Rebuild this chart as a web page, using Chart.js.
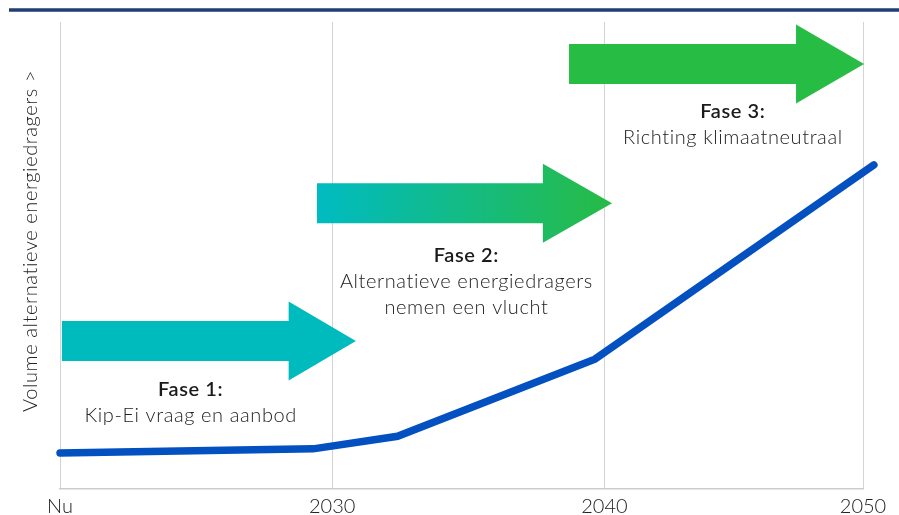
<!DOCTYPE html>
<html>
<head>
<meta charset="utf-8">
<script src="https://cdn.jsdelivr.net/npm/chart.js@4.4.0/dist/chart.umd.min.js"></script>
<style>
  html, body { margin: 0; padding: 0; background: #fff; }
  #wrap { width: 899px; height: 515px; position: relative; }
</style>
</head>
<body>
<div id="wrap"><canvas id="fasen"></canvas></div>
<script>
// as-labels en posities van de jaartallen
const xLabels = ['Nu', '2030', '2040', '2050'];
const tickYears = [2020, 2030, 2040, 2049.5];

// groei van het volume alternatieve energiedragers
const lineYears = [2020, 2029.3, 2032.4, 2039.65, 2049.9];
const volume = [7.7, 8.6, 11.3, 27.8, 69.4];

// teksten per fase
const phaseTitles = ['Fase 1:', 'Fase 2:', 'Fase 3:'];
const phaseTexts = [
  ['Kip-Ei vraag en aanbod'],
  ['Alternatieve energiedragers', 'nemen een vlucht'],
  ['Richting klimaatneutraal']
];

const yTitle = 'Volume alternatieve energiedragers >';
const FONT = 'Lato, "Open Sans", sans-serif';

// pijlen en tekstblokken, in as-eenheden
const arrows = [
  { from: 2020.07, head: 2028.4, to: 2030.87, y: 31.7, c1: '#00bbbe', c2: '#00bbbe' },
  { from: 2029.44, head: 2037.74, to: 2040.28, y: 61.2, c1: '#00bbc2', c2: '#27bb45' },
  { from: 2038.7, head: 2047.04, to: 2049.54, y: 91.0, c1: '#27bc43', c2: '#27bc43' }
];
const textSpots = [
  { x: 2024.8, y: 19.9 },
  { x: 2034.93, y: 48.6 },
  { x: 2044.72, y: 79.4 }
];

const fasenPlugin = {
  id: 'fasen',
  beforeDraw(chart) {
    const ctx = chart.ctx;
    ctx.save();
    // donkerblauwe lijn bovenaan
    ctx.strokeStyle = '#213e72';
    ctx.lineWidth = 3.5;
    ctx.beginPath();
    ctx.moveTo(9, 10);
    ctx.lineTo(chart.width, 10);
    ctx.stroke();
    ctx.restore();
  },
  beforeDatasetsDraw(chart) {
    const ctx = chart.ctx;
    const xs = chart.scales.x, ys = chart.scales.y;
    ctx.save();
    arrows.forEach(a => {
      const x0 = xs.getPixelForValue(a.from);
      const xh = xs.getPixelForValue(a.head);
      const x1 = xs.getPixelForValue(a.to);
      const yc = ys.getPixelForValue(a.y);
      const body = 20, wing = 39.5;
      const g = ctx.createLinearGradient(x0, 0, x1, 0);
      g.addColorStop(0, a.c1);
      g.addColorStop(1, a.c2);
      ctx.fillStyle = g;
      ctx.beginPath();
      ctx.moveTo(x0, yc - body);
      ctx.lineTo(xh, yc - body);
      ctx.lineTo(xh, yc - wing);
      ctx.lineTo(x1, yc);
      ctx.lineTo(xh, yc + wing);
      ctx.lineTo(xh, yc + body);
      ctx.lineTo(x0, yc + body);
      ctx.closePath();
      ctx.fill();
    });
    ctx.restore();
  },
  afterDraw(chart) {
    const ctx = chart.ctx;
    const xs = chart.scales.x, ys = chart.scales.y;
    ctx.save();
    ctx.textAlign = 'center';
    ctx.textBaseline = 'alphabetic';
    ctx.letterSpacing = '0.6px';
    textSpots.forEach((s, i) => {
      const cx = xs.getPixelForValue(s.x);
      let by = ys.getPixelForValue(s.y);
      ctx.fillStyle = '#1b1b1b';
      ctx.font = '600 20px ' + FONT;
      ctx.fillText(phaseTitles[i], cx, by);
      ctx.fillStyle = '#222222';
      ctx.font = '300 20px ' + FONT;
      phaseTexts[i].forEach(line => {
        by += 26;
        ctx.fillText(line, cx, by);
      });
    });
    // verticale astitel
    ctx.translate(37, 241);
    ctx.rotate(-Math.PI / 2);
    ctx.fillStyle = '#222222';
    ctx.font = '300 20px ' + FONT;
    ctx.fillText(yTitle, 0, 0);
    ctx.restore();
  }
};

new Chart(document.getElementById('fasen'), {
  type: 'line',
  data: {
    datasets: [{
      data: lineYears.map((yr, i) => ({ x: yr, y: volume[i] })),
      borderColor: '#0350c1',
      borderWidth: 7.5,
      borderCapStyle: 'round',
      borderJoinStyle: 'miter',
      pointRadius: 0,
      tension: 0,
      clip: false
    }]
  },
  options: {
    responsive: true,
    maintainAspectRatio: false,
    animation: false,
    layout: { padding: { left: 60, right: 36, top: 22, bottom: 0 } },
    plugins: { legend: { display: false }, tooltip: { enabled: false } },
    scales: {
      x: {
        type: 'linear',
        min: 2020,
        max: 2049.5,
        afterBuildTicks: scale => { scale.ticks = tickYears.map(v => ({ value: v })); },
        afterFit: scale => { scale.height = 26; },
        grid: { color: '#d4d4d4', lineWidth: 1, drawTicks: false },
        border: { color: '#cccccc', width: 1.5 },
        ticks: {
          autoSkip: false,
          maxRotation: 0,
          padding: 6,
          color: '#222222',
          font: { family: FONT, size: 20, weight: '300' },
          callback: (v, i) => xLabels[i]
        }
      },
      y: {
        display: false,
        min: 0,
        max: 100
      }
    }
  },
  plugins: [fasenPlugin]
});
</script>
</body>
</html>
